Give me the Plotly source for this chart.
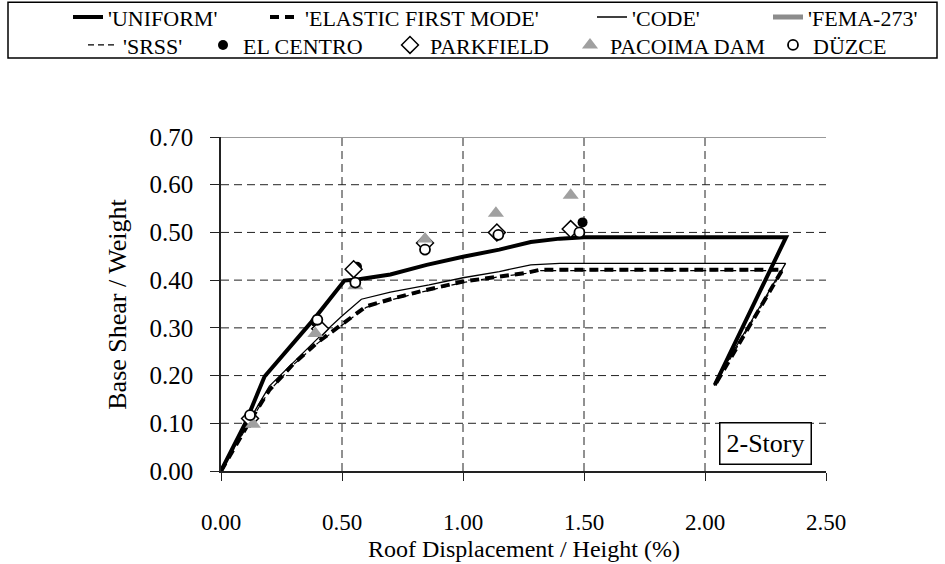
import plotly.graph_objects as go

# ---------------- data ----------------
x_ticks = [0.0, 0.5, 1.0, 1.5, 2.0, 2.5]
y_ticks = [0.0, 0.1, 0.2, 0.3, 0.4, 0.5, 0.6, 0.7]
x_ticktext = ["0.00", "0.50", "1.00", "1.50", "2.00", "2.50"]
y_ticktext = ["0.00", "0.10", "0.20", "0.30", "0.40", "0.50", "0.60", "0.70"]

disp_uniform = [0, 0.05, 0.10, 0.18, 0.28, 0.39, 0.51, 0.57, 0.70, 0.85, 1.00, 1.15, 1.28, 1.40, 1.50, 2.335, 2.04]
vw_uniform = [0, 0.052, 0.100, 0.198, 0.257, 0.322, 0.399, 0.402, 0.412, 0.432, 0.449, 0.464, 0.480, 0.487, 0.490, 0.490, 0.180]

disp_elastic = [0, 0.12, 0.20, 0.30, 0.40, 0.48, 0.60, 0.70, 0.82, 1.00, 1.15, 1.26, 1.32, 2.32, 2.035]
vw_elastic = [0, 0.105, 0.170, 0.225, 0.270, 0.300, 0.345, 0.360, 0.376, 0.397, 0.408, 0.415, 0.422, 0.422, 0.175]

disp_code = [0, 0.11, 0.20, 0.30, 0.40, 0.50, 0.58, 0.70, 0.86, 1.00, 1.15, 1.28, 1.40, 2.333, 2.04]
vw_code = [0, 0.100, 0.178, 0.228, 0.278, 0.325, 0.360, 0.375, 0.390, 0.405, 0.418, 0.432, 0.435, 0.435, 0.185]

disp_fema = [None]
vw_fema = [None]

disp_srss = [0, 0.12, 0.20, 0.30, 0.40, 0.48, 0.60, 0.70, 0.82, 1.00, 1.15, 1.26, 1.32, 2.32, 2.03]
vw_srss = [0, 0.104, 0.168, 0.223, 0.268, 0.298, 0.343, 0.358, 0.374, 0.395, 0.407, 0.414, 0.420, 0.420, 0.172]

elcentro_x = [0.125, 0.390, 0.562, 0.843, 1.139, 1.494]
elcentro_y = [0.115, 0.313, 0.428, 0.474, 0.502, 0.521]
parkfield_x = [0.120, 0.410, 0.548, 0.843, 1.140, 1.445]
parkfield_y = [0.110, 0.298, 0.423, 0.478, 0.500, 0.507]
pacoima_x = [0.132, 0.390, 0.555, 0.843, 1.136, 1.445]
pacoima_y = [0.098, 0.288, 0.388, 0.486, 0.540, 0.578]
duzce_x = [0.120, 0.398, 0.555, 0.843, 1.146, 1.481]
duzce_y = [0.117, 0.317, 0.395, 0.464, 0.495, 0.500]

# ---------------- geometry ----------------
W, H = 945, 564
L, R, T, B = 221, 826, 137, 471.5
PW, PH = R - L, B - T


def px(xp):
    return (xp - L) / PW


def py(yp):
    return (B - yp) / PH


FONT = "Liberation Serif, Times New Roman, serif"

fig = go.Figure()

# legend slots: (text start pixel x, row center pixel y)
slots = {
    "legend": (108, 17), "legend2": (305, 17), "legend3": (632, 17), "legend4": (808, 17),
    "legend5": (123, 45), "legend6": (243, 45), "legend7": (430, 45), "legend8": (610, 45), "legend9": (813, 45),
}

fig.add_trace(go.Scatter(x=disp_fema, y=vw_fema, mode="lines", name="'FEMA-273'",
                         line=dict(color="#8c8c8c", width=5), legend="legend4"))
fig.add_trace(go.Scatter(x=disp_srss, y=vw_srss, mode="lines", name="'SRSS'",
                         line=dict(color="black", width=1.2, dash="6px,4px"), legend="legend5"))
fig.add_trace(go.Scatter(x=disp_code, y=vw_code, mode="lines", name="'CODE'",
                         line=dict(color="black", width=1.3), legend="legend3"))
fig.add_trace(go.Scatter(x=disp_elastic, y=vw_elastic, mode="lines", name="'ELASTIC FIRST MODE'",
                         line=dict(color="black", width=4, dash="9px,6px"), legend="legend2"))
fig.add_trace(go.Scatter(x=disp_uniform, y=vw_uniform, mode="lines", name="'UNIFORM'",
                         line=dict(color="black", width=4), legend="legend"))

fig.add_trace(go.Scatter(x=elcentro_x, y=elcentro_y, mode="markers", name="EL CENTRO",
                         marker=dict(symbol="circle", size=10, color="black"), legend="legend6"))
fig.add_trace(go.Scatter(x=parkfield_x, y=parkfield_y, mode="markers", name="PARKFIELD",
                         marker=dict(symbol="diamond", size=13, color="white",
                                     line=dict(color="black", width=1.5)), legend="legend7"))
fig.add_trace(go.Scatter(x=pacoima_x, y=pacoima_y, mode="markers", name="PACOIMA DAM",
                         marker=dict(symbol="triangle-up", size=14, color="#a0a0a0"), legend="legend8"))
fig.add_trace(go.Scatter(x=duzce_x, y=duzce_y, mode="markers", name="DÜZCE",
                         marker=dict(symbol="circle", size=10, color="white",
                                     line=dict(color="black", width=1.8)), legend="legend9"))

legend_layouts = {}
for key, (tx, ty) in slots.items():
    legend_layouts[key] = dict(
        x=px(tx - 40), y=py(ty), xanchor="left", yanchor="middle",
        bgcolor="rgba(0,0,0,0)", borderwidth=0,
        font=dict(family=FONT, size=22, color="black"),
        orientation="v", tracegroupgap=0,
    )

GRID = "#222222"
shapes = []
# gridlines
for xv in x_ticks[1:-1]:
    shapes.append(dict(type="line", xref="x", yref="y", x0=xv, x1=xv, y0=0, y1=0.7,
                       line=dict(color=GRID, width=1, dash="8px,5px"), layer="below"))
for yv in y_ticks[1:-1]:
    shapes.append(dict(type="line", xref="x", yref="y", x0=0, x1=2.5, y0=yv, y1=yv,
                       line=dict(color=GRID, width=1, dash="8px,5px"), layer="below"))
shapes.append(dict(type="line", xref="x", yref="y", x0=0, x1=2.5, y0=y_ticks[-1], y1=y_ticks[-1],
                   line=dict(color="#999999", width=2), layer="below"))
# legend border box
shapes.append(dict(type="rect", xref="paper", yref="paper",
                   x0=px(8), x1=px(937), y0=py(58), y1=py(2),
                   line=dict(color="black", width=1.5), fillcolor="rgba(0,0,0,0)"))

annotations = [
    dict(text="2-Story", xref="x", yref="y", x=2.252, y=0.0575, showarrow=False,
         font=dict(family=FONT, size=26, color="black"), bgcolor="white",
         bordercolor="black", borderwidth=1.5, borderpad=1, width=88, height=38),
    dict(text="Roof Displacement / Height (%)", xref="paper", yref="paper",
         x=px(524), y=py(565), showarrow=False, xanchor="center", yanchor="bottom",
         font=dict(family=FONT, size=24, color="black")),
    dict(text="Base Shear / Weight", xref="paper", yref="paper",
         x=px(118), y=py(305), showarrow=False, xanchor="center", yanchor="middle", textangle=-90,
         font=dict(family=FONT, size=26, color="black")),
]

fig.update_layout(
    width=W, height=H,
    margin=dict(l=L, r=W - R, t=T, b=H - B, pad=0, autoexpand=False),
    paper_bgcolor="white", plot_bgcolor="white",
    font=dict(family=FONT, size=24, color="black"),
    showlegend=True,
    shapes=shapes, annotations=annotations,
    xaxis=dict(range=[0, 2.5], tickvals=x_ticks, ticktext=x_ticktext, showgrid=False, zeroline=False,
               showline=True, linecolor="#222222", linewidth=1.5, ticks="outside", ticklen=8,
               tickcolor="#222222", tickwidth=1, ticklabelstandoff=22,
               tickfont=dict(family=FONT, size=23)),
    yaxis=dict(range=[0, 0.7], tickvals=y_ticks, ticktext=y_ticktext, showgrid=False, zeroline=False,
               showline=True, linecolor="#222222", linewidth=1.5, ticks="outside", ticklen=9,
               tickcolor="#222222", tickwidth=1, ticklabelstandoff=12,
               tickfont=dict(family=FONT, size=25)),
    **legend_layouts,
)

fig.write_html("out.html", config={"displayModeBar": False},
               post_script="document.body.style.margin='0';")
